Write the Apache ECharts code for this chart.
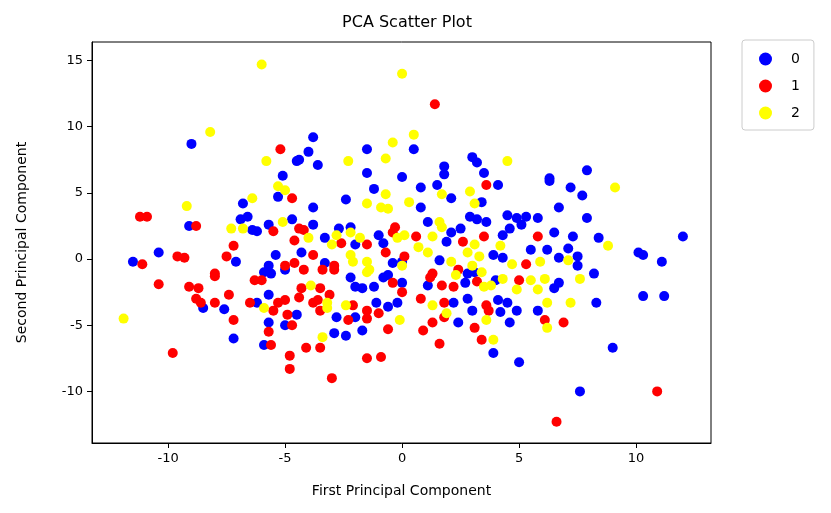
<!DOCTYPE html>
<html>
<head>
<meta charset="utf-8">
<script src="https://cdn.jsdelivr.net/npm/echarts@6/dist/echarts.min.js"></script>
<style>
  html, body { margin: 0; padding: 0; background: #fff; }
  #chart { width: 831px; height: 513px; }
</style>
</head>
<body>
<div id="chart"></div>
<script>
// 读图估计的 PCA 坐标 [PC1, PC2]
const class0 = [
  [-9.0, 8.7], [-4.5, 7.4], [-5.1, 6.3], [-3.8, 9.2], [-4.0, 8.1], [-4.4, 7.5], [-3.6, 7.1],
  [-1.5, 8.3], [0.5, 8.3], [-1.5, 6.5], [0.0, 6.2], [1.8, 7.0], [1.8, 6.4], [3.0, 7.7],
  [3.2, 7.3], [3.5, 6.5], [7.9, 6.7], [6.3, 6.1], [-9.1, 2.5], [-6.8, 4.2], [-6.9, 3.0],
  [-6.6, 3.2], [-6.4, 2.2], [-7.1, -0.2], [-10.4, 0.5], [-11.5, -0.2], [-5.3, 4.7],
  [-3.8, 3.9], [-2.4, 4.5], [-1.2, 5.3], [-5.7, 2.6], [-4.7, 3.0], [-3.8, 2.6], [-6.2, 2.1],
  [-3.3, 1.6], [-2.7, 2.3], [-2.2, 2.4], [-2.0, 1.1], [-1.0, 1.8], [-0.8, 1.2], [-5.4, 0.3],
  [-4.3, 0.5], [-3.3, -0.3], [-5.7, -0.5], [-5.9, -1.0], [-0.4, -0.3], [0.0, -0.2],
  [0.8, 5.4], [1.5, 5.6], [2.1, 4.6], [0.8, 3.9], [1.1, 2.8], [4.1, 5.6], [3.4, 4.3],
  [2.9, 3.2], [3.2, 3.0], [3.6, 2.8], [2.5, 2.3], [4.5, 3.3], [4.9, 3.1], [5.3, 3.2],
  [5.8, 3.1], [4.6, 2.3], [5.1, 2.6], [6.3, 5.9], [6.7, 3.9], [6.5, 2.0], [4.3, 1.8],
  [2.1, 2.0], [1.9, 1.3], [3.9, 0.3], [4.3, 0.1], [5.5, 0.7], [6.2, 0.7], [1.6, -0.1],
  [6.7, 0.1], [7.2, 5.4], [7.7, 4.8], [7.9, 3.1], [7.3, 1.7], [8.4, 1.6], [12.0, 1.7],
  [10.1, 0.5], [10.3, 0.3], [11.1, -0.2], [7.1, 0.8], [7.5, 0.2], [7.5, -0.5], [8.2, -1.1],
  [-8.5, -3.7], [-7.6, -3.8], [-7.2, -6.0], [-5.6, -1.1], [-5.0, -0.8], [-5.7, -2.7],
  [-6.2, -3.3], [-4.5, -4.2], [-5.0, -5.0], [-5.7, -4.8], [-5.9, -6.5], [-2.9, -5.6],
  [-2.4, -5.8], [-2.8, -4.4], [-2.0, -4.4], [-1.7, -5.4], [-1.1, -3.3], [-0.6, -3.6],
  [-0.2, -3.3], [-2.2, -1.4], [-2.0, -2.1], [-1.7, -2.2], [-1.2, -2.1], [-0.8, -1.4],
  [-0.6, -1.2], [0.0, -1.8], [1.1, -2.0], [2.8, -1.1], [3.1, -1.0], [2.7, -1.8], [4.0, -1.6],
  [6.5, -2.2], [6.7, -1.8], [2.2, -3.3], [2.8, -3.0], [4.1, -3.1], [4.5, -3.3], [4.2, -4.0],
  [3.0, -3.9], [4.9, -3.9], [5.8, -3.9], [2.4, -4.8], [4.6, -4.8], [3.9, -7.1], [5.0, -7.8],
  [8.3, -3.3], [10.3, -2.8], [11.2, -2.8], [9.0, -6.7], [7.6, -10.0]
];

const class1 = [
  [-5.2, 8.3], [1.4, 11.7], [-11.2, 3.2], [-10.9, 3.2], [-8.8, 2.5], [-7.2, 1.0], [-7.5, 0.2],
  [-9.6, 0.2], [-9.3, 0.1], [-11.1, -0.4], [-8.0, -1.1], [-4.7, 4.6], [-5.5, 2.1], [-4.4, 2.3],
  [-4.2, 2.2], [-4.6, 1.4], [-2.6, 1.2], [-1.5, 1.1], [-0.3, 2.4], [-0.4, 2.0], [-0.7, 0.5],
  [-3.8, 0.3], [-2.9, -0.5], [-5.0, -0.5], [-4.6, -0.3], [-4.2, -0.8], [0.1, 0.2], [3.6, 5.6],
  [5.8, 1.7], [0.6, 1.7], [2.6, 1.3], [3.5, 1.7], [5.3, -0.4], [2.4, -0.8], [1.3, -1.1],
  [-10.4, -1.9], [-9.1, -2.1], [-8.7, -2.2], [-8.8, -3.0], [-8.6, -3.3], [-8.0, -1.3],
  [-8.0, -3.3], [-7.4, -2.7], [-7.2, -4.6], [-9.8, -7.1], [-6.5, -3.3], [-6.3, -1.6],
  [-6.0, -1.6], [-4.3, -2.2], [-4.4, -2.9], [-3.5, -2.2], [-3.6, -3.1], [-3.8, -3.3],
  [-3.5, -3.9], [-3.1, -2.7], [-5.3, -3.3], [-5.0, -3.1], [-5.5, -3.9], [-4.9, -4.2],
  [-4.7, -5.0], [-5.7, -5.5], [-5.6, -6.5], [-4.1, -6.7], [-3.5, -6.7], [-4.8, -7.3],
  [-4.8, -8.3], [-2.3, -4.6], [-2.1, -3.5], [-1.5, -3.9], [-1.5, -4.5], [-1.0, -4.1],
  [-0.6, -5.3], [-1.5, -7.5], [-0.9, -7.4], [-0.4, -1.8], [0.0, -2.5], [-3.4, -0.8],
  [-2.9, -0.8], [-3.0, -9.0], [1.2, -1.4], [1.7, -2.0], [2.2, -2.1], [3.2, -1.7], [5.0, -1.6],
  [0.8, -3.0], [1.8, -3.3], [3.6, -3.5], [3.7, -3.9], [1.8, -4.4], [1.3, -4.8], [0.9, -5.4],
  [3.1, -5.2], [3.4, -6.1], [6.1, -4.6], [6.9, -4.8], [1.6, -6.4], [10.9, -10.0], [6.6, -12.3]
];

const class2 = [
  [-6.0, 14.7], [-8.2, 9.6], [-5.8, 7.4], [0.0, 14.0], [-2.3, 7.4], [-0.4, 8.8], [-0.7, 7.6],
  [0.5, 9.4], [4.5, 7.4], [-9.2, 4.0], [-6.4, 4.6], [-7.3, 2.3], [-6.8, 2.3], [-5.3, 5.5],
  [-5.0, 5.2], [-0.7, 4.9], [-1.5, 4.2], [-0.9, 3.9], [-0.6, 3.8], [0.3, 4.3], [-5.1, 2.8],
  [-4.0, 1.6], [-2.8, 1.8], [-2.2, 2.0], [-3.0, 1.1], [-1.8, 1.6], [-0.2, 1.6], [0.1, 1.8],
  [-2.2, 0.3], [-2.1, -0.2], [-1.5, -0.2], [-1.4, -0.8], [0.0, -0.5], [1.7, 4.9], [1.6, 2.8],
  [1.7, 2.4], [2.9, 5.1], [3.1, 4.2], [4.2, 1.0], [0.7, 0.9], [1.1, 0.5], [1.3, 1.7],
  [3.1, 1.1], [2.8, 0.5], [3.3, 0.2], [3.0, -0.5], [2.1, -0.2], [4.7, -0.4], [5.9, -0.2],
  [9.1, 5.4], [8.8, 1.0], [7.1, -0.1], [-11.9, -4.5], [-3.9, -2.0], [-3.2, -3.3], [-3.2, -3.7],
  [-5.9, -3.7], [-3.4, -5.9], [-2.4, -3.5], [-0.1, -4.6], [-1.5, -1.0], [2.3, -1.2],
  [3.5, -2.1], [3.8, -2.0], [3.4, -1.0], [4.3, -1.5], [5.5, -1.6], [5.8, -2.3], [4.9, -2.3],
  [6.1, -1.5], [1.3, -3.5], [1.9, -4.1], [6.2, -3.3], [3.6, -4.6], [6.2, -5.2], [3.9, -6.1],
  [7.6, -1.5], [7.2, -3.3]
];

const classNames = ['0', '1', '2'];
const classColors = ['#0000ff', '#ff0000', '#ffff00'];
const xTicks = [-10, -5, 0, 5, 10];
const yTicks = [-10, -5, 0, 5, 10, 15];

const chart = echarts.init(document.getElementById('chart'));
const font = 'DejaVu Sans';

const option = {
  backgroundColor: '#fff',
  animation: false,
  title: {
    text: 'PCA Scatter Plot',
    left: 402, top: 10,
    textAlign: 'center',
    textStyle: { fontFamily: font, fontSize: 16, fontWeight: 'normal', color: '#000' }
  },
  legend: {
    orient: 'vertical',
    left: 742, top: 40,
    padding: [12, 14, 10, 17],
    itemGap: 13,
    itemWidth: 13, itemHeight: 13,
    borderColor: '#cccccc', borderWidth: 1, borderRadius: 3,
    textStyle: { fontFamily: font, fontSize: 14, color: '#000', padding: [0, 0, 0, 14] },
    data: classNames.map(n => ({ name: n, icon: 'circle' }))
  },
  grid: {
    left: 92, right: 120, top: 42, bottom: 70,
    show: true, borderColor: '#000', borderWidth: 1, backgroundColor: '#fff'
  },
  xAxis: {
    type: 'value',
    min: -13.25, max: 13.2,
    name: 'First Principal Component',
    nameLocation: 'middle', nameGap: 41,
    nameTextStyle: { fontFamily: font, fontSize: 14, color: '#000' },
    axisLine: { show: true, onZero: false, lineStyle: { color: '#000', width: 1 } },
    axisTick: { show: true, length: 5, inside: false, customValues: xTicks, lineStyle: { color: '#000', width: 1 } },
    axisLabel: { customValues: xTicks, fontFamily: font, fontSize: 13, color: '#000', margin: 9 },
    splitLine: { show: false }
  },
  yAxis: {
    type: 'value',
    min: -13.9, max: 16.4,
    name: 'Second Principal Component',
    nameLocation: 'middle', nameGap: 63,
    nameTextStyle: { fontFamily: font, fontSize: 14, color: '#000' },
    axisLine: { show: true, onZero: false, lineStyle: { color: '#000', width: 1 } },
    axisTick: { show: true, length: 5, inside: false, customValues: yTicks, lineStyle: { color: '#000', width: 1 } },
    axisLabel: { customValues: yTicks, fontFamily: font, fontSize: 13, color: '#000', margin: 9 },
    splitLine: { show: false }
  },
  series: [class0, class1, class2].map((pts, i) => ({
    name: classNames[i],
    type: 'scatter',
    data: pts,
    symbol: 'circle',
    symbolSize: 10,
    itemStyle: { color: classColors[i], opacity: 1 }
  }))
};

chart.setOption(option);
</script>
</body>
</html>
